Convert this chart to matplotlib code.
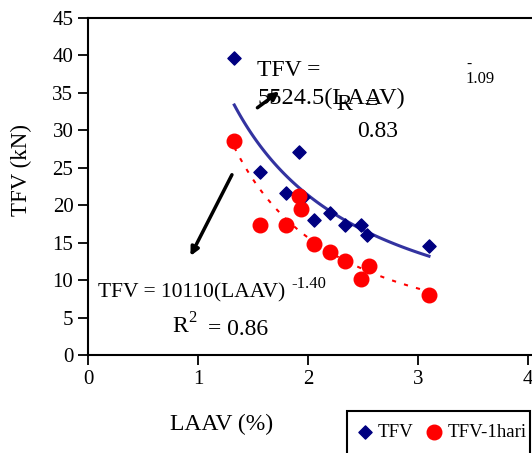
import matplotlib.pyplot as plt
import numpy as np
from matplotlib.patches import Rectangle

plt.rcParams['font.family'] = ['Liberation Serif', 'DejaVu Serif']

# TFV (blue diamonds)
laav_tfv = [1.33, 1.56, 1.80, 1.92, 1.95, 2.05, 2.20, 2.34, 2.48, 2.54, 3.10]
tfv = [39.7, 24.4, 21.6, 27.1, 21.1, 18.0, 19.0, 17.4, 17.4, 16.0, 14.5]

# TFV-1hari (red circles)
laav_1h = [1.33, 1.56, 1.80, 1.92, 1.94, 2.05, 2.20, 2.34, 2.48, 2.55, 3.10]
tfv_1h = [28.6, 17.3, 17.3, 21.2, 19.5, 14.8, 13.7, 12.5, 10.2, 11.9, 8.0]

xticks = [0, 1, 2, 3, 4]
yticks = list(range(0, 50, 5))


def power_fit(x, y):
    # power trendline like Excel: fit in log-log space
    x = np.array(x)
    b, lna = np.polyfit(np.log(x), np.log(np.array(y)), 1)
    xs = np.linspace(x.min(), x.max(), 100)
    return xs, np.exp(lna) * xs ** b


fig = plt.figure(figsize=(5.32, 4.53), dpi=100)
ax = fig.add_axes([88 / 532, 98 / 453, 1 - 88 / 532, 337 / 453])

ax.scatter(laav_tfv, tfv, marker='D', s=45, color='#000080', zorder=3, label='TFV')
ax.scatter(laav_1h, tfv_1h, marker='o', s=110, color='#ff0000', zorder=3, label='TFV-1hari')

xs, ys = power_fit(laav_tfv, tfv)
ax.plot(xs, ys, color='#3333a0', lw=2.2, zorder=2)
xs, ys = power_fit(laav_1h, tfv_1h)
ax.plot(xs, ys, color='#ff0000', lw=1.5, ls=(0, (2, 4)), zorder=2)

ax.set_xlim(0, 4 * 444 / 440)
ax.set_ylim(0, 45)
ax.set_xticks(xticks)
ax.set_yticks(yticks)
ax.tick_params(labelsize=15, length=7, width=1.3, direction='out')
ax.spines['right'].set_visible(False)
for s in ['left', 'bottom', 'top']:
    ax.spines[s].set_linewidth(1.5)

ax.set_xlabel('LAAV (%)', fontsize=17)
ax.xaxis.set_label_coords(0.30, -0.175)
ax.set_ylabel('TFV (kN)', fontsize=16.5)
ax.yaxis.set_label_coords(-0.125, 0.549)

# trendline annotations
ax.text(1.54, 37.3, 'TFV =', fontsize=17)
ax.text(1.54, 33.5, '5524.5(LAAV)', fontsize=17.5)
ax.text(2.26, 32.7, 'R', fontsize=17)
ax.text(2.52, 32.7, '=', fontsize=17)
ax.text(2.45, 29.1, '0.83', fontsize=17)
ax.text(3.44, 38.4, '-', fontsize=11)
ax.text(3.43, 36.3, '1.09', fontsize=12)

ax.text(0.09, 7.7, 'TFV = 10110(LAAV)', fontsize=15.5)
ax.text(1.85, 9.0, '-1.40', fontsize=12)
ax.text(0.76, 2.9, r'R$^\mathregular{2}$', fontsize=17)
ax.text(1.09, 2.7, '= 0.86', fontsize=17)

ax.annotate('', xy=(1.76, 35.4), xytext=(1.52, 32.8),
            arrowprops=dict(arrowstyle='-|>', lw=2.5, color='black', mutation_scale=12))
ax.annotate('', xy=(0.92, 12.9), xytext=(1.32, 24.4),
            arrowprops=dict(arrowstyle='-|>', lw=2.5, color='black', mutation_scale=12))

# legend box runs off the bottom edge in the original
fig.patches.append(Rectangle((347 / 532, -0.05), 183 / 532, 0.05 + 42 / 453,
                             transform=fig.transFigure, fill=False,
                             edgecolor='black', lw=1.5))
fig.legend(loc='center left', bbox_to_anchor=(357 / 532, 1 - 432 / 453),
           ncol=2, fontsize=13.6, frameon=False, handletextpad=0.3,
           columnspacing=0.7, borderpad=0, borderaxespad=0, handlelength=0.8)

fig.savefig('out.png', dpi=100)
